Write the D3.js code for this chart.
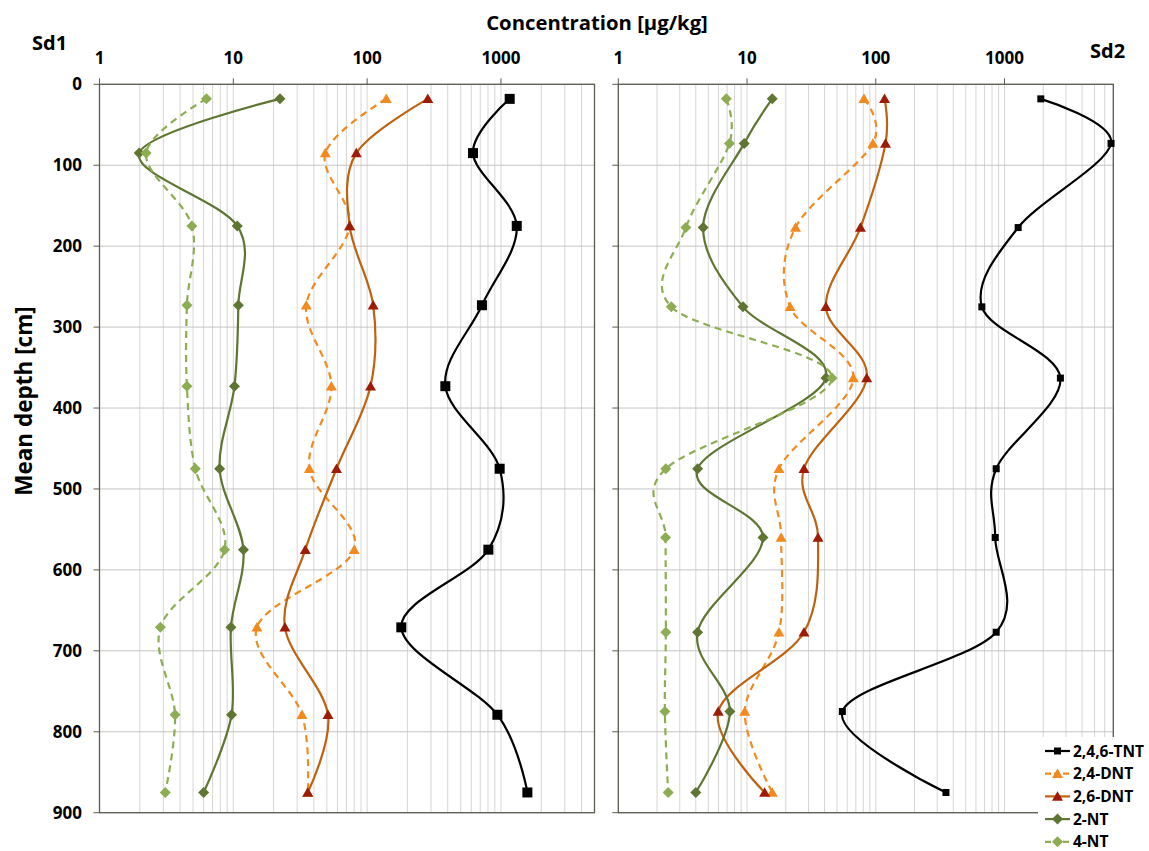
<!DOCTYPE html>
<html>
<head>
<meta charset="utf-8">
<script src="https://cdn.jsdelivr.net/npm/d3@7"></script>
<style>
  body { margin: 0; background: #fff; }
  svg text { font-family: "Open Sans", "Noto Sans", sans-serif; font-weight: bold; fill: #000; }
</style>
</head>
<body>
<div id="chart"></div>
<script>
// 深度 (cm)
const depthSd1 = [18, 85, 175, 273, 373, 475, 575, 671, 779, 875];
const depthSd2 = [18, 73, 177, 275, 363, 475, 560, 677, 775, 875];

// Sd1 浓度 (µg/kg)
const sd1TNT   = [1162, 618, 1312, 721, 384, 978, 805, 180, 940, 1575];
const sd1DNT24 = [139, 48.7, 74, 35.1, 54, 37, 80, 15, 32.6, 36];
const sd1DNT26 = [284, 83, 74, 111, 106, 59, 34.5, 24.3, 51, 36];
const sd1NT2   = [22.3, 1.98, 10.7, 10.9, 10.2, 7.9, 11.9, 9.6, 9.7, 6.0];
const sd1NT4   = [6.3, 2.23, 4.9, 4.5, 4.5, 5.2, 8.6, 2.85, 3.67, 3.1];

// Sd2 浓度 (µg/kg)
const sd2TNT   = [1914, 6725, 1277, 667, 2718, 862, 847, 862, 55, 351];
const sd2DNT24 = [81, 95, 23.8, 21.6, 67, 17.7, 18.4, 17.7, 9.6, 15.7];
const sd2DNT26 = [117, 119, 76, 41, 85, 27.7, 35.6, 27.7, 5.97, 13.7];
const sd2NT2   = [15.7, 9.5, 4.56, 9.3, 41, 4.13, 13.3, 4.13, 7.36, 4.0];
const sd2NT4   = [6.9, 7.3, 3.35, 2.58, 45.7, 2.34, 2.33, 2.34, 2.3, 2.44];

// 图例 / 刻度
const seriesNames = ["2,4,6-TNT", "2,4-DNT", "2,6-DNT", "2-NT", "4-NT"];
const xTickValues = [1, 10, 100, 1000];
const yTickValues = [0, 100, 200, 300, 400, 500, 600, 700, 800, 900];

const styles = [
    { line: "#000000", marker: "#000000", shape: "square", dash: null },
    { line: "#F28A1E", marker: "#F28A1E", shape: "triangle", dash: "7,5" },
    { line: "#BF620F", marker: "#9E1B05", shape: "triangle", dash: null },
    { line: "#5F7532", marker: "#5F7532", shape: "diamond", dash: null },
    { line: "#8DAD52", marker: "#8DAD52", shape: "diamond", dash: "7,5" }
];

const W = 1149, H = 851;
const svg = d3.select("#chart").append("svg")
    .attr("width", W).attr("height", H);

const y = d3.scaleLinear().domain([0, 900]).range([84.3, 812.7]);

const panels = [
    { name: "Sd1", depth: depthSd1, values: [sd1TNT, sd1DNT24, sd1DNT26, sd1NT2, sd1NT4],
      x: d3.scaleLog().domain([1, 5000]).range([99.5, 594.5]), sq: 10, labels: true },
    { name: "Sd2", depth: depthSd2, values: [sd2TNT, sd2DNT24, sd2DNT26, sd2NT2, sd2NT4],
      x: d3.scaleLog().domain([1, 7000]).range([618.3, 1113.3]), sq: 7, labels: false }
];

function markerPath(shape, size) {
    const s = size / 2;
    if (shape === "square") return `M${-s},${-s}H${s}V${s}H${-s}Z`;
    if (shape === "triangle") return `M0,${-s * 1.05}L${s * 1.1},${s * 0.85}L${-s * 1.1},${s * 0.85}Z`;
    return `M0,${-s * 1.1}L${s * 1.1},0L0,${s * 1.1}L${-s * 1.1},0Z`;
}

panels.forEach(p => {
    const x = p.x;
    const [x0, x1] = x.range();
    const g = svg.append("g");

    // 次网格线
    const minor = [];
    for (let dec = 1; dec <= 1000; dec *= 10)
        for (let k = 1; k <= 9; k++) if (dec * k <= x.domain()[1]) minor.push(dec * k);
    g.selectAll(".vgrid").data(minor).enter().append("line")
        .attr("x1", d => x(d)).attr("x2", d => x(d))
        .attr("y1", y(0)).attr("y2", y(900))
        .attr("stroke", "#d6d6d6").attr("stroke-width", 1);

    g.selectAll(".hgrid").data(yTickValues).enter().append("line")
        .attr("x1", x0).attr("x2", x1)
        .attr("y1", d => y(d)).attr("y2", d => y(d))
        .attr("stroke", "#c4c4c4").attr("stroke-width", 1);

    // 边框
    g.append("rect")
        .attr("x", x0).attr("y", y(0))
        .attr("width", x1 - x0).attr("height", y(900) - y(0))
        .attr("fill", "none").attr("stroke", "#5c5c50").attr("stroke-width", 1.3);

    // 刻度线
    g.selectAll(".ytick").data(yTickValues).enter().append("line")
        .attr("x1", x0 - 6).attr("x2", x0)
        .attr("y1", d => y(d)).attr("y2", d => y(d))
        .attr("stroke", "#5c5c50");
    g.selectAll(".xtick").data(xTickValues).enter().append("line")
        .attr("x1", d => x(d)).attr("x2", d => x(d))
        .attr("y1", y(0) - 6).attr("y2", y(0))
        .attr("stroke", "#5c5c50");

    // x轴标签
    g.selectAll(".xlab").data(xTickValues).enter().append("text")
        .attr("x", d => x(d)).attr("y", 64)
        .attr("text-anchor", "middle")
        .style("font-size", "17px")
        .text(d => d);

    if (p.labels) {
        g.selectAll(".ylab").data(yTickValues).enter().append("text")
            .attr("x", 82).attr("y", d => y(d))
            .attr("dy", "0.36em")
            .attr("text-anchor", "end")
            .style("font-size", "17px")
            .text(d => d);
    }

    // 数据线
    p.values.forEach((vals, i) => {
        const st = styles[i];
        const pts = vals.map((v, j) => [x(v), y(p.depth[j])]);
        g.append("path")
            .attr("d", d3.line().curve(d3.curveCardinal.tension(0))(pts))
            .attr("fill", "none")
            .attr("stroke", st.line)
            .attr("stroke-width", 2.2)
            .attr("stroke-dasharray", st.dash);
        const size = st.shape === "square" ? p.sq : 10;
        g.selectAll(null).data(pts).enter().append("path")
            .attr("transform", d => `translate(${d[0]},${d[1]})`)
            .attr("d", markerPath(st.shape, size))
            .attr("fill", st.marker);
    });
});

// 标题
svg.append("text").attr("x", 32).attr("y", 50).style("font-size", "20px").text("Sd1");
svg.append("text").attr("x", 1090).attr("y", 58).style("font-size", "20px").text("Sd2");
svg.append("text").attr("x", 597).attr("y", 29.5)
    .attr("text-anchor", "middle").style("font-size", "20.3px")
    .text("Concentration [µg/kg]");
svg.append("text")
    .attr("transform", "translate(32,401) rotate(-90)")
    .attr("text-anchor", "middle").style("font-size", "22.5px")
    .text("Mean depth [cm]");

// 图例
const legend = svg.append("g");
legend.append("rect")
    .attr("x", 1038).attr("y", 737).attr("width", 111).attr("height", 114)
    .attr("fill", "#fff");
const item = legend.selectAll(".legend").data(seriesNames).enter().append("g")
    .attr("transform", (d, i) => `translate(1045,${751 + i * 22.7})`);
item.append("line")
    .attr("x1", 0).attr("x2", 25)
    .attr("stroke", (d, i) => styles[i].line)
    .attr("stroke-width", 2.2)
    .attr("stroke-dasharray", (d, i) => styles[i].dash ? "6,3" : null);
item.append("path")
    .attr("transform", "translate(12.5,0)")
    .attr("d", (d, i) => markerPath(styles[i].shape, styles[i].shape === "square" ? 7 : 10))
    .attr("fill", (d, i) => styles[i].marker);
item.append("text")
    .attr("x", 28).attr("dy", "0.36em")
    .style("font-size", "15.5px")
    .text(d => d);
</script>
</body>
</html>
